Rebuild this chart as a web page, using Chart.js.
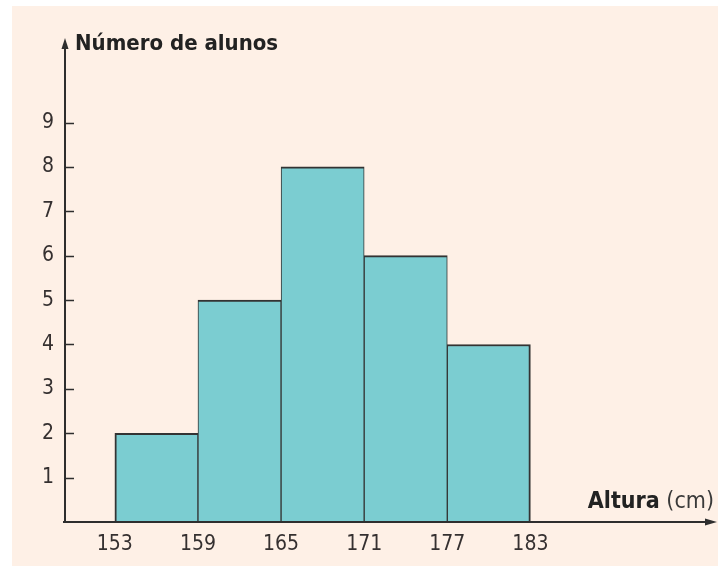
<!DOCTYPE html>
<html>
<head>
<meta charset="utf-8">
<script src="https://cdn.jsdelivr.net/npm/chart.js@4.4.1/dist/chart.umd.min.js"></script>
<style>
  html, body { margin: 0; padding: 0; background: #ffffff; }
  #wrap { width: 718px; height: 566px; }
</style>
</head>
<body>
<div id="wrap"><canvas id="histo" width="718" height="566"></canvas></div>
<script>
    // Class limits (cm) and number of students per class
    var binEdges = [153, 159, 165, 171, 177, 183];
    var counts = [2, 5, 8, 6, 4];
    var yTicks = [1, 2, 3, 4, 5, 6, 7, 8, 9];

    var yTitle = 'Número de alunos';
    var xTitleBold = 'Altura';
    var xTitleUnit = ' (cm)';

    var FONT = '"DejaVu Sans Condensed", "Liberation Sans Narrow", Roboto, sans-serif';
    var INK = '#2e2e2e';
    var PAPER = '#fef0e6';
    var BAR = '#7bcdd1';

    var points = counts.map(function(c, i) {
        return { x: (binEdges[i] + binEdges[i + 1]) / 2, y: c };
    });

    /**
     * Paper, axes with arrowheads, inward ticks and the two titles.
     */
    var framePlugin = {
        id: 'frame',
        beforeDraw: function(chart) {
            var ctx = chart.ctx;
            ctx.save();
            ctx.fillStyle = PAPER;
            ctx.fillRect(12, 6, chart.width - 12, chart.height - 6);
            ctx.restore();
        },
        afterDatasetsDraw: function(chart) {
            var ctx = chart.ctx;
            var area = chart.chartArea;
            var ys = chart.scales.y;
            var x0 = area.left;
            var y0 = area.bottom;

            ctx.save();
            ctx.strokeStyle = INK;
            ctx.fillStyle = INK;
            ctx.lineWidth = 2;

            // axes
            ctx.beginPath();
            ctx.moveTo(x0, y0);
            ctx.lineTo(x0, area.top + 4);
            ctx.moveTo(x0 - 2, y0);
            ctx.lineTo(area.right - 6, y0);
            ctx.stroke();

            // arrowheads
            ctx.beginPath();
            ctx.moveTo(x0, area.top - 2);
            ctx.lineTo(x0 - 3.5, area.top + 9);
            ctx.lineTo(x0 + 3.5, area.top + 9);
            ctx.closePath();
            ctx.fill();
            ctx.beginPath();
            ctx.moveTo(area.right + 1, y0);
            ctx.lineTo(area.right - 11, y0 - 3.5);
            ctx.lineTo(area.right - 11, y0 + 3.5);
            ctx.closePath();
            ctx.fill();

            // inward ticks on the y axis
            ctx.beginPath();
            yTicks.forEach(function(v) {
                var py = Math.round(ys.getPixelForValue(v)) + 0.5;
                ctx.moveTo(x0, py);
                ctx.lineTo(x0 + 9, py);
            });
            ctx.lineWidth = 1.6;
            ctx.stroke();

            // titles
            ctx.textBaseline = 'alphabetic';
            ctx.textAlign = 'left';
            ctx.fillStyle = '#222222';
            ctx.font = 'bold 22px ' + FONT;
            ctx.fillText(yTitle, x0 + 10, area.top + 10);

            ctx.font = 'bold 23px ' + FONT;
            var wBold = ctx.measureText(xTitleBold).width;
            ctx.font = '23px ' + FONT;
            var wUnit = ctx.measureText(xTitleUnit).width;
            var tx = area.right - 2 - wBold - wUnit;
            ctx.font = 'bold 23px ' + FONT;
            ctx.fillText(xTitleBold, tx, y0 - 14);
            ctx.font = '23px ' + FONT;
            ctx.fillStyle = '#3a3a3a';
            ctx.fillText(xTitleUnit, tx + wBold, y0 - 14);
            ctx.restore();
        }
    };

    function edgeWidths(context) {
        var i = context.dataIndex;
        return {
            top: 2,
            bottom: 0,
            left: i === 0 ? 2 : 1,
            right: i === counts.length - 1 ? 2 : 1
        };
    }

    new Chart(document.getElementById('histo').getContext('2d'), {
        type: 'bar',
        data: {
            datasets: [{
                data: points,
                backgroundColor: BAR,
                borderColor: '#333333',
                borderWidth: edgeWidths,
                borderSkipped: false,
                barPercentage: 1,
                categoryPercentage: 1
            }]
        },
        options: {
            responsive: false,
            animation: false,
            layout: { padding: { left: 0, right: 2, top: 40, bottom: 0 } },
            plugins: {
                legend: { display: false },
                tooltip: { enabled: false }
            },
            scales: {
                x: {
                    type: 'linear',
                    min: 149.4,
                    max: 196.4,
                    offset: false,
                    grid: { display: false, drawTicks: false },
                    border: { display: false },
                    afterBuildTicks: function(scale) {
                        scale.ticks = binEdges.map(function(v) { return { value: v }; });
                    },
                    afterFit: function(scale) { scale.height = 44; },
                    ticks: {
                        padding: 10,
                        autoSkip: false,
                        maxRotation: 0,
                        color: '#353030',
                        font: { family: FONT, size: 21 }
                    }
                },
                y: {
                    min: 0,
                    max: 10.86,
                    grid: { display: false, drawTicks: false },
                    border: { display: false },
                    afterBuildTicks: function(scale) {
                        scale.ticks = yTicks.map(function(v) { return { value: v }; });
                    },
                    afterFit: function(scale) { scale.width = 65; },
                    ticks: {
                        padding: 11,
                        color: '#353030',
                        font: { family: FONT, size: 21 }
                    }
                }
            }
        },
        plugins: [framePlugin]
    });
</script>
</body>
</html>
